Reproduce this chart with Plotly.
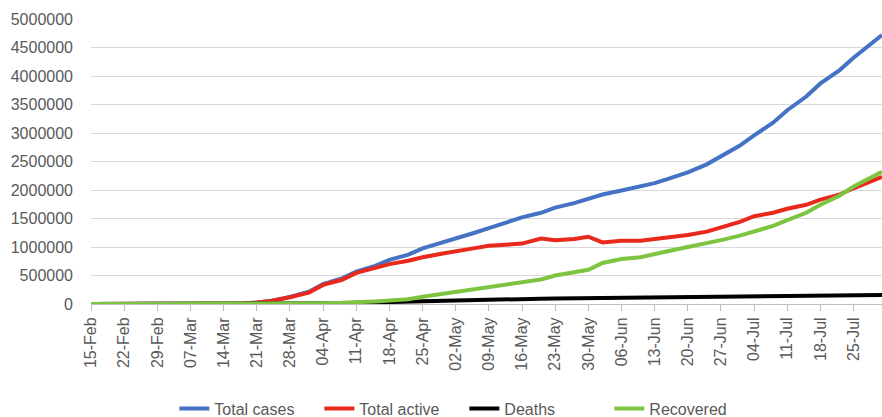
import plotly.graph_objects as go

# Reporting dates (2020) and cumulative counts
dates = [
    "2020-02-15", "2020-03-01", "2020-03-14", "2020-03-18", "2020-03-21",
    "2020-03-24", "2020-03-28", "2020-04-01", "2020-04-04", "2020-04-08",
    "2020-04-11", "2020-04-15", "2020-04-18", "2020-04-22", "2020-04-25",
    "2020-04-29", "2020-05-02", "2020-05-06", "2020-05-09", "2020-05-13",
    "2020-05-16", "2020-05-20", "2020-05-23", "2020-05-27", "2020-05-30",
    "2020-06-02", "2020-06-06", "2020-06-10", "2020-06-13", "2020-06-16",
    "2020-06-20", "2020-06-24", "2020-06-27", "2020-07-01", "2020-07-04",
    "2020-07-08", "2020-07-11", "2020-07-15", "2020-07-18", "2020-07-22",
    "2020-07-25", "2020-07-28", "2020-07-31",
]

total_cases = [
    15, 75, 2700, 9000, 26000,
    55000, 125000, 215000, 350000, 450000,
    570000, 670000, 775000, 865000, 975000,
    1070000, 1150000, 1250000, 1330000, 1430000,
    1520000, 1600000, 1690000, 1770000, 1850000,
    1920000, 1990000, 2060000, 2120000, 2200000,
    2310000, 2450000, 2590000, 2780000, 2960000,
    3180000, 3400000, 3640000, 3870000, 4100000,
    4320000, 4520000, 4720000,
]

total_active = [
    10, 60, 2600, 8500, 25000,
    52000, 118000, 200000, 335000, 425000,
    545000, 625000, 700000, 760000, 820000,
    880000, 930000, 980000, 1020000, 1040000,
    1060000, 1150000, 1120000, 1140000, 1180000,
    1080000, 1110000, 1110000, 1140000, 1160000,
    1210000, 1270000, 1340000, 1440000, 1540000,
    1600000, 1670000, 1740000, 1830000, 1920000,
    2030000, 2130000, 2230000,
]

deaths = [
    0, 1, 60, 150, 330,
    900, 2200, 5000, 9000, 15000,
    21000, 30000, 39000, 47000, 54000,
    61000, 67000, 74000, 80000, 85000,
    90000, 94000, 98000, 101000, 105000,
    108000, 111000, 114000, 117000, 119000,
    121000, 123000, 127000, 130000, 132000,
    135000, 137000, 140000, 143000, 146000,
    150000, 153000, 157000,
]

recovered = [
    0, 7, 50, 100, 170,
    400, 3000, 8000, 15000, 20000,
    25000, 45000, 60000, 85000, 128000,
    175000, 215000, 255000, 300000, 345000,
    390000, 430000, 500000, 550000, 600000,
    720000, 790000, 820000, 880000, 930000,
    1000000, 1060000, 1120000, 1200000, 1270000,
    1370000, 1470000, 1600000, 1740000, 1900000,
    2060000, 2190000, 2320000,
]

series = [
    ("Total cases", total_cases, "#4472C4"),
    ("Total active", total_active, "#E8291C"),
    ("Deaths", deaths, "#000000"),
    ("Recovered", recovered, "#7DC540"),
]

FONT = "Liberation Sans, Arial, sans-serif"
TEXT = "#595959"

fig = go.Figure()
for name, values, color in series:
    fig.add_trace(go.Scatter(
        x=dates, y=values, name=name, mode="lines",
        line=dict(color=color, width=4),
    ))

fig.update_layout(
    width=882, height=417,
    margin=dict(l=91, r=0, t=19, b=113, autoexpand=False),
    paper_bgcolor="white", plot_bgcolor="white",
    font=dict(family=FONT, size=16, color=TEXT),
    showlegend=True,
    legend=dict(
        orientation="h", x=0.472, xanchor="center",
        yref="container", y=0.02, yanchor="middle",
        font=dict(family=FONT, size=16, color=TEXT),
        entrywidth=100, entrywidthmode="pixels",
    ),
)

fig.update_xaxes(
    type="date", automargin=False,
    range=["2020-02-15", "2020-07-31"],
    tick0="2020-02-15", dtick=7 * 86400000,
    tickformat="%d-%b", tickangle=-90,
    ticks="outside", ticklen=6, tickcolor="#BFBFBF", tickwidth=1,
    showline=True, linecolor="#BFBFBF", linewidth=1,
    showgrid=False, zeroline=False,
    tickfont=dict(family=FONT, size=16, color=TEXT),
)

fig.update_yaxes(
    range=[0, 5000000], dtick=500000, tickformat="d", automargin=False,
    showgrid=True, gridcolor="#D9D9D9", gridwidth=1.3,
    zeroline=False, showline=False, ticks="",
    ticklabelstandoff=17,
    tickfont=dict(family=FONT, size=16, color=TEXT),
)

fig.write_html("out.html")
